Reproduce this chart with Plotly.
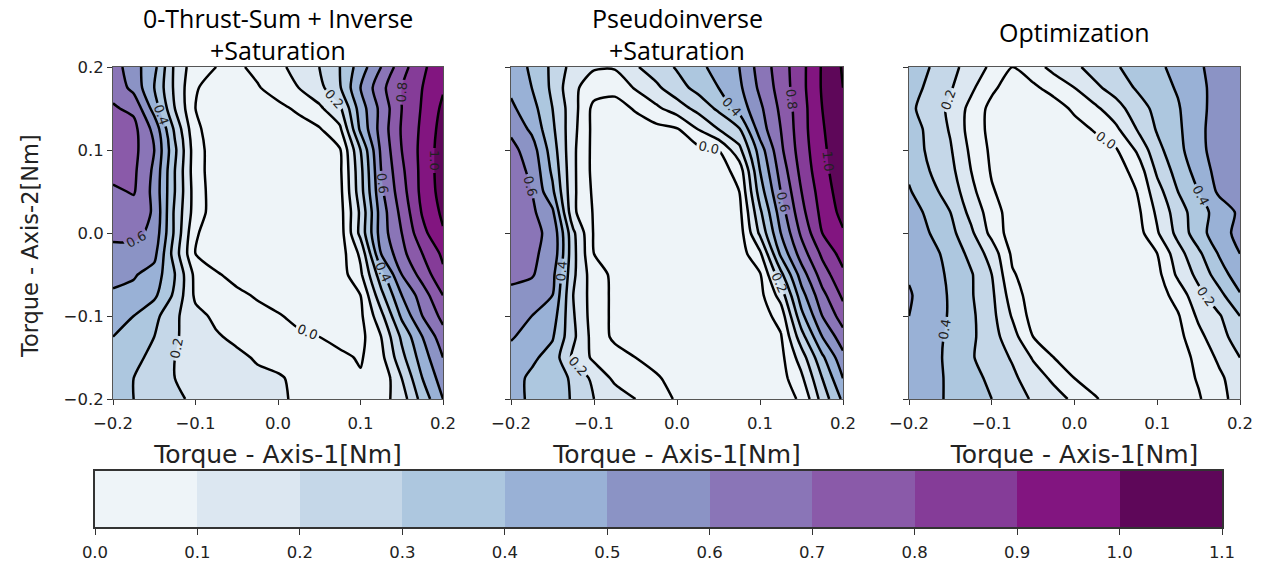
import plotly.graph_objects as go

# ---------------- data ----------------
x_torque1 = [-0.2, -0.175, -0.15, -0.125, -0.1, -0.075, -0.05, -0.025, 0.0,
             0.025, 0.05, 0.075, 0.1, 0.125, 0.15, 0.175, 0.2]
y_torque2 = [-0.2, -0.175, -0.15, -0.125, -0.1, -0.075, -0.05, -0.025, 0.0,
             0.025, 0.05, 0.075, 0.1, 0.125, 0.15, 0.175, 0.2]

# rows: y = -0.2 ... 0.2 ; columns: x = -0.2 ... 0.2   (plateau stored as -0.05)
z_zero_thrust = [
    [0.33, 0.30, 0.27, 0.22, 0.18, 0.16, 0.14, 0.13, 0.11, 0.09, 0.07, 0.06, 0.05, 0.06, 0.15, 0.34, 0.50],
    [0.35, 0.30, 0.27, 0.20, 0.17, 0.15, 0.14, 0.12, 0.11, 0.08, 0.06, 0.04, 0.01, 0.02, 0.20, 0.40, 0.55],
    [0.37, 0.32, 0.28, 0.20, 0.17, 0.14, 0.12, 0.09, 0.07, 0.05, 0.03, 0.02, -0.01, 0.07, 0.27, 0.45, 0.60],
    [0.40, 0.36, 0.30, 0.21, 0.16, 0.11, 0.08, 0.05, 0.04, 0.02, 0.00, -0.03, -0.03, 0.10, 0.32, 0.50, 0.66],
    [0.45, 0.40, 0.33, 0.22, 0.13, 0.08, 0.05, 0.03, 0.01, -0.03, -0.05, -0.05, -0.02, 0.17, 0.42, 0.60, 0.73],
    [0.49, 0.47, 0.42, 0.28, 0.08, 0.05, 0.02, -0.01, -0.05, -0.05, -0.05, -0.05, 0.00, 0.27, 0.50, 0.65, 0.80],
    [0.52, 0.51, 0.46, 0.30, 0.07, 0.01, -0.03, -0.05, -0.05, -0.05, -0.05, -0.05, 0.08, 0.36, 0.60, 0.74, 0.88],
    [0.56, 0.56, 0.53, 0.25, 0.00, -0.05, -0.05, -0.05, -0.05, -0.05, -0.05, -0.05, 0.12, 0.50, 0.67, 0.80, 0.92],
    [0.63, 0.63, 0.57, 0.28, 0.01, -0.05, -0.05, -0.05, -0.05, -0.05, -0.05, -0.05, 0.23, 0.55, 0.70, 0.87, 0.99],
    [0.66, 0.65, 0.59, 0.28, 0.05, -0.05, -0.05, -0.05, -0.05, -0.05, -0.05, -0.04, 0.22, 0.55, 0.73, 0.91, 1.02],
    [0.68, 0.71, 0.57, 0.30, 0.05, -0.05, -0.05, -0.05, -0.05, -0.05, -0.05, -0.03, 0.26, 0.58, 0.76, 0.93, 1.04],
    [0.74, 0.72, 0.58, 0.30, 0.04, -0.05, -0.05, -0.05, -0.05, -0.05, -0.05, -0.02, 0.27, 0.60, 0.78, 0.93, 1.05],
    [0.76, 0.73, 0.60, 0.32, 0.04, -0.05, -0.05, -0.05, -0.05, -0.05, -0.05, -0.01, 0.30, 0.62, 0.80, 0.93, 1.05],
    [0.75, 0.73, 0.57, 0.28, 0.02, -0.05, -0.05, -0.05, -0.05, -0.05, -0.01, 0.08, 0.42, 0.64, 0.81, 0.92, 1.04],
    [0.71, 0.68, 0.46, 0.20, 0.00, -0.05, -0.05, -0.05, -0.03, 0.02, 0.08, 0.18, 0.45, 0.63, 0.80, 0.91, 1.02],
    [0.67, 0.57, 0.40, 0.18, 0.01, -0.05, -0.05, -0.01, 0.05, 0.10, 0.17, 0.29, 0.50, 0.67, 0.80, 0.90, 0.99],
    [0.65, 0.54, 0.43, 0.18, 0.04, 0.00, -0.02, 0.03, 0.08, 0.13, 0.20, 0.30, 0.45, 0.60, 0.76, 0.88, 0.97],
]
z_pseudoinverse = [
    [0.42, 0.39, 0.35, 0.29, 0.20, 0.15, 0.10, 0.04, -0.01, -0.05, -0.05, -0.05, -0.05, -0.03, 0.01, 0.24, 0.42],
    [0.44, 0.38, 0.33, 0.29, 0.17, 0.08, 0.04, 0.01, -0.03, -0.05, -0.05, -0.05, -0.05, -0.04, 0.08, 0.30, 0.50],
    [0.46, 0.42, 0.36, 0.18, 0.08, 0.04, 0.00, -0.03, -0.05, -0.05, -0.05, -0.05, -0.05, -0.03, 0.15, 0.38, 0.57],
    [0.51, 0.46, 0.41, 0.22, 0.06, -0.02, -0.05, -0.05, -0.05, -0.05, -0.05, -0.05, -0.05, -0.01, 0.26, 0.50, 0.66],
    [0.55, 0.50, 0.45, 0.21, 0.05, -0.02, -0.05, -0.05, -0.05, -0.05, -0.05, -0.05, -0.05, 0.04, 0.37, 0.60, 0.75],
    [0.59, 0.55, 0.50, 0.20, 0.05, -0.02, -0.05, -0.05, -0.05, -0.05, -0.05, -0.05, -0.03, 0.14, 0.46, 0.67, 0.82],
    [0.61, 0.61, 0.53, 0.22, 0.04, -0.02, -0.05, -0.05, -0.05, -0.05, -0.05, -0.05, -0.01, 0.27, 0.55, 0.75, 0.88],
    [0.62, 0.61, 0.58, 0.23, 0.00, -0.05, -0.05, -0.05, -0.05, -0.05, -0.05, -0.05, 0.08, 0.42, 0.65, 0.82, 0.94],
    [0.62, 0.62, 0.58, 0.22, -0.01, -0.05, -0.05, -0.05, -0.05, -0.05, -0.05, -0.05, 0.22, 0.50, 0.72, 0.90, 0.99],
    [0.65, 0.62, 0.52, 0.12, -0.01, -0.05, -0.05, -0.05, -0.05, -0.05, -0.05, -0.03, 0.28, 0.55, 0.77, 0.93, 1.03],
    [0.66, 0.60, 0.42, 0.12, -0.02, -0.05, -0.05, -0.05, -0.05, -0.05, -0.05, 0.00, 0.35, 0.60, 0.80, 0.95, 1.05],
    [0.65, 0.58, 0.38, 0.12, -0.03, -0.05, -0.05, -0.05, -0.05, -0.05, -0.05, 0.04, 0.40, 0.64, 0.83, 0.97, 1.06],
    [0.63, 0.55, 0.35, 0.12, -0.03, -0.05, -0.05, -0.05, -0.05, -0.03, 0.00, 0.17, 0.45, 0.68, 0.85, 0.98, 1.07],
    [0.58, 0.48, 0.32, 0.13, -0.03, -0.05, -0.05, -0.03, -0.01, 0.10, 0.20, 0.29, 0.55, 0.70, 0.86, 0.99, 1.08],
    [0.52, 0.44, 0.30, 0.14, -0.03, -0.04, 0.01, 0.08, 0.15, 0.23, 0.32, 0.44, 0.58, 0.72, 0.86, 1.00, 1.09],
    [0.48, 0.40, 0.28, 0.12, 0.05, 0.03, 0.11, 0.18, 0.26, 0.33, 0.40, 0.48, 0.62, 0.74, 0.87, 1.01, 1.10],
    [0.47, 0.38, 0.28, 0.16, 0.11, 0.11, 0.19, 0.25, 0.31, 0.37, 0.44, 0.50, 0.64, 0.75, 0.87, 1.01, 1.11],
]
z_optimization = [
    [0.43, 0.42, 0.39, 0.35, 0.30, 0.24, 0.19, 0.14, 0.08, 0.01, -0.05, -0.05, -0.05, -0.05, -0.01, 0.07, 0.14],
    [0.44, 0.42, 0.39, 0.33, 0.28, 0.22, 0.15, 0.08, 0.00, -0.05, -0.05, -0.05, -0.05, -0.05, 0.01, 0.08, 0.16],
    [0.45, 0.43, 0.38, 0.31, 0.25, 0.19, 0.09, 0.00, -0.05, -0.05, -0.05, -0.05, -0.05, -0.05, 0.03, 0.12, 0.20],
    [0.47, 0.44, 0.38, 0.32, 0.24, 0.14, 0.00, -0.05, -0.05, -0.05, -0.05, -0.05, -0.05, -0.03, 0.07, 0.17, 0.24],
    [0.50, 0.45, 0.39, 0.32, 0.23, 0.09, -0.04, -0.05, -0.05, -0.05, -0.05, -0.05, -0.05, -0.01, 0.12, 0.19, 0.30],
    [0.51, 0.45, 0.39, 0.31, 0.22, 0.05, -0.05, -0.05, -0.05, -0.05, -0.05, -0.05, -0.05, 0.04, 0.17, 0.27, 0.39],
    [0.49, 0.45, 0.38, 0.31, 0.20, 0.01, -0.05, -0.05, -0.05, -0.05, -0.05, -0.05, -0.03, 0.12, 0.23, 0.35, 0.46],
    [0.49, 0.43, 0.37, 0.27, 0.16, -0.02, -0.05, -0.05, -0.05, -0.05, -0.05, -0.05, 0.00, 0.16, 0.28, 0.41, 0.50],
    [0.47, 0.40, 0.33, 0.22, 0.07, -0.05, -0.05, -0.05, -0.05, -0.05, -0.05, -0.05, 0.09, 0.23, 0.36, 0.46, 0.53],
    [0.44, 0.38, 0.30, 0.17, 0.05, -0.05, -0.05, -0.05, -0.05, -0.05, -0.05, -0.03, 0.12, 0.25, 0.36, 0.44, 0.52],
    [0.41, 0.33, 0.26, 0.13, 0.01, -0.05, -0.05, -0.05, -0.05, -0.05, -0.05, 0.00, 0.16, 0.30, 0.40, 0.52, 0.56],
    [0.38, 0.30, 0.23, 0.10, -0.01, -0.05, -0.05, -0.05, -0.05, -0.05, -0.04, 0.03, 0.22, 0.34, 0.44, 0.54, 0.58],
    [0.36, 0.28, 0.21, 0.08, -0.02, -0.05, -0.05, -0.05, -0.05, -0.05, -0.01, 0.11, 0.27, 0.37, 0.47, 0.55, 0.59],
    [0.34, 0.28, 0.19, 0.06, -0.03, -0.05, -0.05, -0.05, -0.04, 0.01, 0.08, 0.20, 0.31, 0.38, 0.48, 0.54, 0.58],
    [0.32, 0.26, 0.18, 0.07, -0.03, -0.05, -0.05, -0.05, 0.02, 0.08, 0.16, 0.25, 0.33, 0.39, 0.48, 0.53, 0.57],
    [0.34, 0.28, 0.21, 0.12, 0.02, -0.05, -0.02, 0.04, 0.10, 0.18, 0.24, 0.31, 0.36, 0.41, 0.48, 0.53, 0.56],
    [0.36, 0.30, 0.23, 0.16, 0.08, 0.00, 0.06, 0.13, 0.18, 0.24, 0.29, 0.34, 0.38, 0.43, 0.49, 0.53, 0.56],
]

panel_titles = [["0-Thrust-Sum + Inverse", "+Saturation"],
                ["Pseudoinverse", "+Saturation"],
                ["Optimization"]]
x_title = "Torque - Axis-1[Nm]"
y_title = "Torque - Axis-2[Nm]"
axis_tick_vals = [-0.2, -0.1, 0.0, 0.1, 0.2]
axis_tick_text = ["\u22120.2", "\u22120.1", "0.0", "0.1", "0.2"]

level_edges = [0.0, 0.1, 0.2, 0.3, 0.4, 0.5, 0.6, 0.7, 0.8, 0.9, 1.0, 1.1]
level_text = ["0.0", "0.1", "0.2", "0.3", "0.4", "0.5", "0.6", "0.7", "0.8", "0.9", "1.0", "1.1"]
level_colors = ["#eef4f8", "#dce7f1", "#c5d7e8", "#adc7df", "#99b1d6", "#8b93c5",
                "#8a75b7", "#8a5aa9", "#853c98", "#821580", "#5e0759"]

# ---------------- geometry (pixels) ----------------
W, H = 1267, 571
panel_px = [(113, 443), (511, 843), (909, 1240)]
panel_py = (67, 399)
cbar_px = (95, 1222)
cbar_py = (471, 527)


def fx(p):
    return p / W


def fy(p):
    return 1 - p / H


# colorscale for contour fill: regions k = 0 (below 0) .. 11 (above 1.0)
n_reg = len(level_colors) + 1
reg_colors = [level_colors[0]] + level_colors
fill_scale = []
for k, col in enumerate(reg_colors):
    lo = max(0.0, (k - 0.25) / (n_reg - 1))
    hi = min(1.0, (k + 0.75) / (n_reg - 1))
    fill_scale.append([lo, col])
    fill_scale.append([hi, col])
fill_scale[-1][0] = 1.0

nb = len(level_colors)
bar_scale = []
for k, col in enumerate(level_colors):
    bar_scale.append([k / nb, col])
    bar_scale.append([(k + 1) / nb, col])

fig = go.Figure()
SM = 0.7
LW = 2.5
panels = [z_zero_thrust, z_pseudoinverse, z_optimization]
for i, z in enumerate(panels):
    xa = "x" if i == 0 else "x%d" % (i + 1)
    ya = "y" if i == 0 else "y%d" % (i + 1)
    fig.add_trace(go.Contour(
        x=x_torque1, y=y_torque2, z=z, xaxis=xa, yaxis=ya,
        colorscale=fill_scale, showscale=False,
        contours=dict(start=level_edges[0], end=level_edges[-2], size=0.1,
                      coloring="fill", showlines=False),
        line=dict(width=0, smoothing=SM), hoverinfo="skip"))
    fig.add_trace(go.Contour(
        x=x_torque1, y=y_torque2, z=z, xaxis=xa, yaxis=ya, showscale=False,
        contours=dict(start=0.1, end=1.1, size=0.2, coloring="none"),
        line=dict(color="black", width=LW, smoothing=SM), hoverinfo="skip"))
    fig.add_trace(go.Contour(
        x=x_torque1, y=y_torque2, z=z, xaxis=xa, yaxis=ya, showscale=False,
        contours=dict(start=0.0, end=1.0, size=0.2, coloring="none",
                      showlabels=True, labelformat=".1f",
                      labelfont=dict(family="DejaVu Sans", size=13, color="#222")),
        line=dict(color="black", width=LW, smoothing=SM), hoverinfo="skip"))

# colour bar as its own axis
mids = [(level_edges[k] + level_edges[k + 1]) / 2 for k in range(nb)]
fig.add_trace(go.Heatmap(x=level_edges, y=[0, 1], z=[mids], xaxis="x4", yaxis="y4",
                         colorscale=bar_scale, zmin=level_edges[0], zmax=level_edges[-1],
                         showscale=False, hoverinfo="skip"))

tick_font = dict(family="DejaVu Sans", size=16.5, color="#222")
layout = dict(width=W, height=H, margin=dict(l=0, r=0, t=0, b=0, pad=0, autoexpand=False),
              paper_bgcolor="white", plot_bgcolor="white", showlegend=False)

for i in range(3):
    sx = "" if i == 0 else str(i + 1)
    layout["xaxis" + sx] = dict(
        domain=[fx(panel_px[i][0]), fx(panel_px[i][1])], anchor="y" + sx,
        range=[-0.2, 0.2], tickvals=axis_tick_vals, ticktext=axis_tick_text,
        ticks="outside", ticklen=5, tickwidth=1.2, tickcolor="#333", automargin=False,
        ticklabelstandoff=4,
        showline=True, mirror=True, linecolor="#555", linewidth=1,
        showgrid=False, zeroline=False, tickfont=tick_font,
        title=dict(text=x_title, standoff=13,
                   font=dict(family="DejaVu Sans", size=25, color="#222")))
    layout["yaxis" + sx] = dict(
        domain=[fy(panel_py[1]), fy(panel_py[0])], anchor="x" + sx,
        range=[-0.2, 0.2], tickvals=axis_tick_vals, ticktext=axis_tick_text,
        showticklabels=(i == 0), automargin=False,
        ticks="outside", ticklen=5, tickwidth=1.2, tickcolor="#333",
        showline=True, mirror=True, linecolor="#555", linewidth=1,
        showgrid=False, zeroline=False, tickfont=tick_font)

layout["xaxis4"] = dict(domain=[fx(cbar_px[0]), fx(cbar_px[1])], anchor="y4",
                        range=[level_edges[0], level_edges[-1]], automargin=False,
                        tickvals=level_edges, ticktext=level_text, ticklabelstandoff=3,
                        ticks="outside", ticklen=6, tickwidth=1.2, tickcolor="#333",
                        showline=True, mirror=True, linecolor="#333", linewidth=1.5,
                        showgrid=False, zeroline=False, tickfont=tick_font)
layout["yaxis4"] = dict(domain=[fy(cbar_py[1]), fy(cbar_py[0])], anchor="x4",
                        range=[0, 1], showticklabels=False, ticks="", automargin=False,
                        showline=True, mirror=True, linecolor="#333", linewidth=1.5,
                        showgrid=False, zeroline=False)

annotations = []
title_font = dict(family="Open Sans", size=25, color="black")
centers = [(panel_px[i][0] + panel_px[i][1]) / 2 for i in range(3)]
for i, lines in enumerate(panel_titles):
    if len(lines) == 2:
        ys = [18, 50]
    else:
        ys = [32]
    for txt, yy in zip(lines, ys):
        annotations.append(dict(text=txt, x=fx(centers[i]), y=fy(yy), xref="paper", yref="paper",
                                xanchor="center", yanchor="middle", showarrow=False,
                                font=title_font))
annotations.append(dict(text=y_title, x=fx(30), y=fy(246), xref="paper", yref="paper",
                        xanchor="center", yanchor="middle", showarrow=False, textangle=-90,
                        font=dict(family="DejaVu Sans", size=22.5, color="#222")))
layout["annotations"] = annotations

fig.update_layout(**layout)
fig.write_html("out.html")
